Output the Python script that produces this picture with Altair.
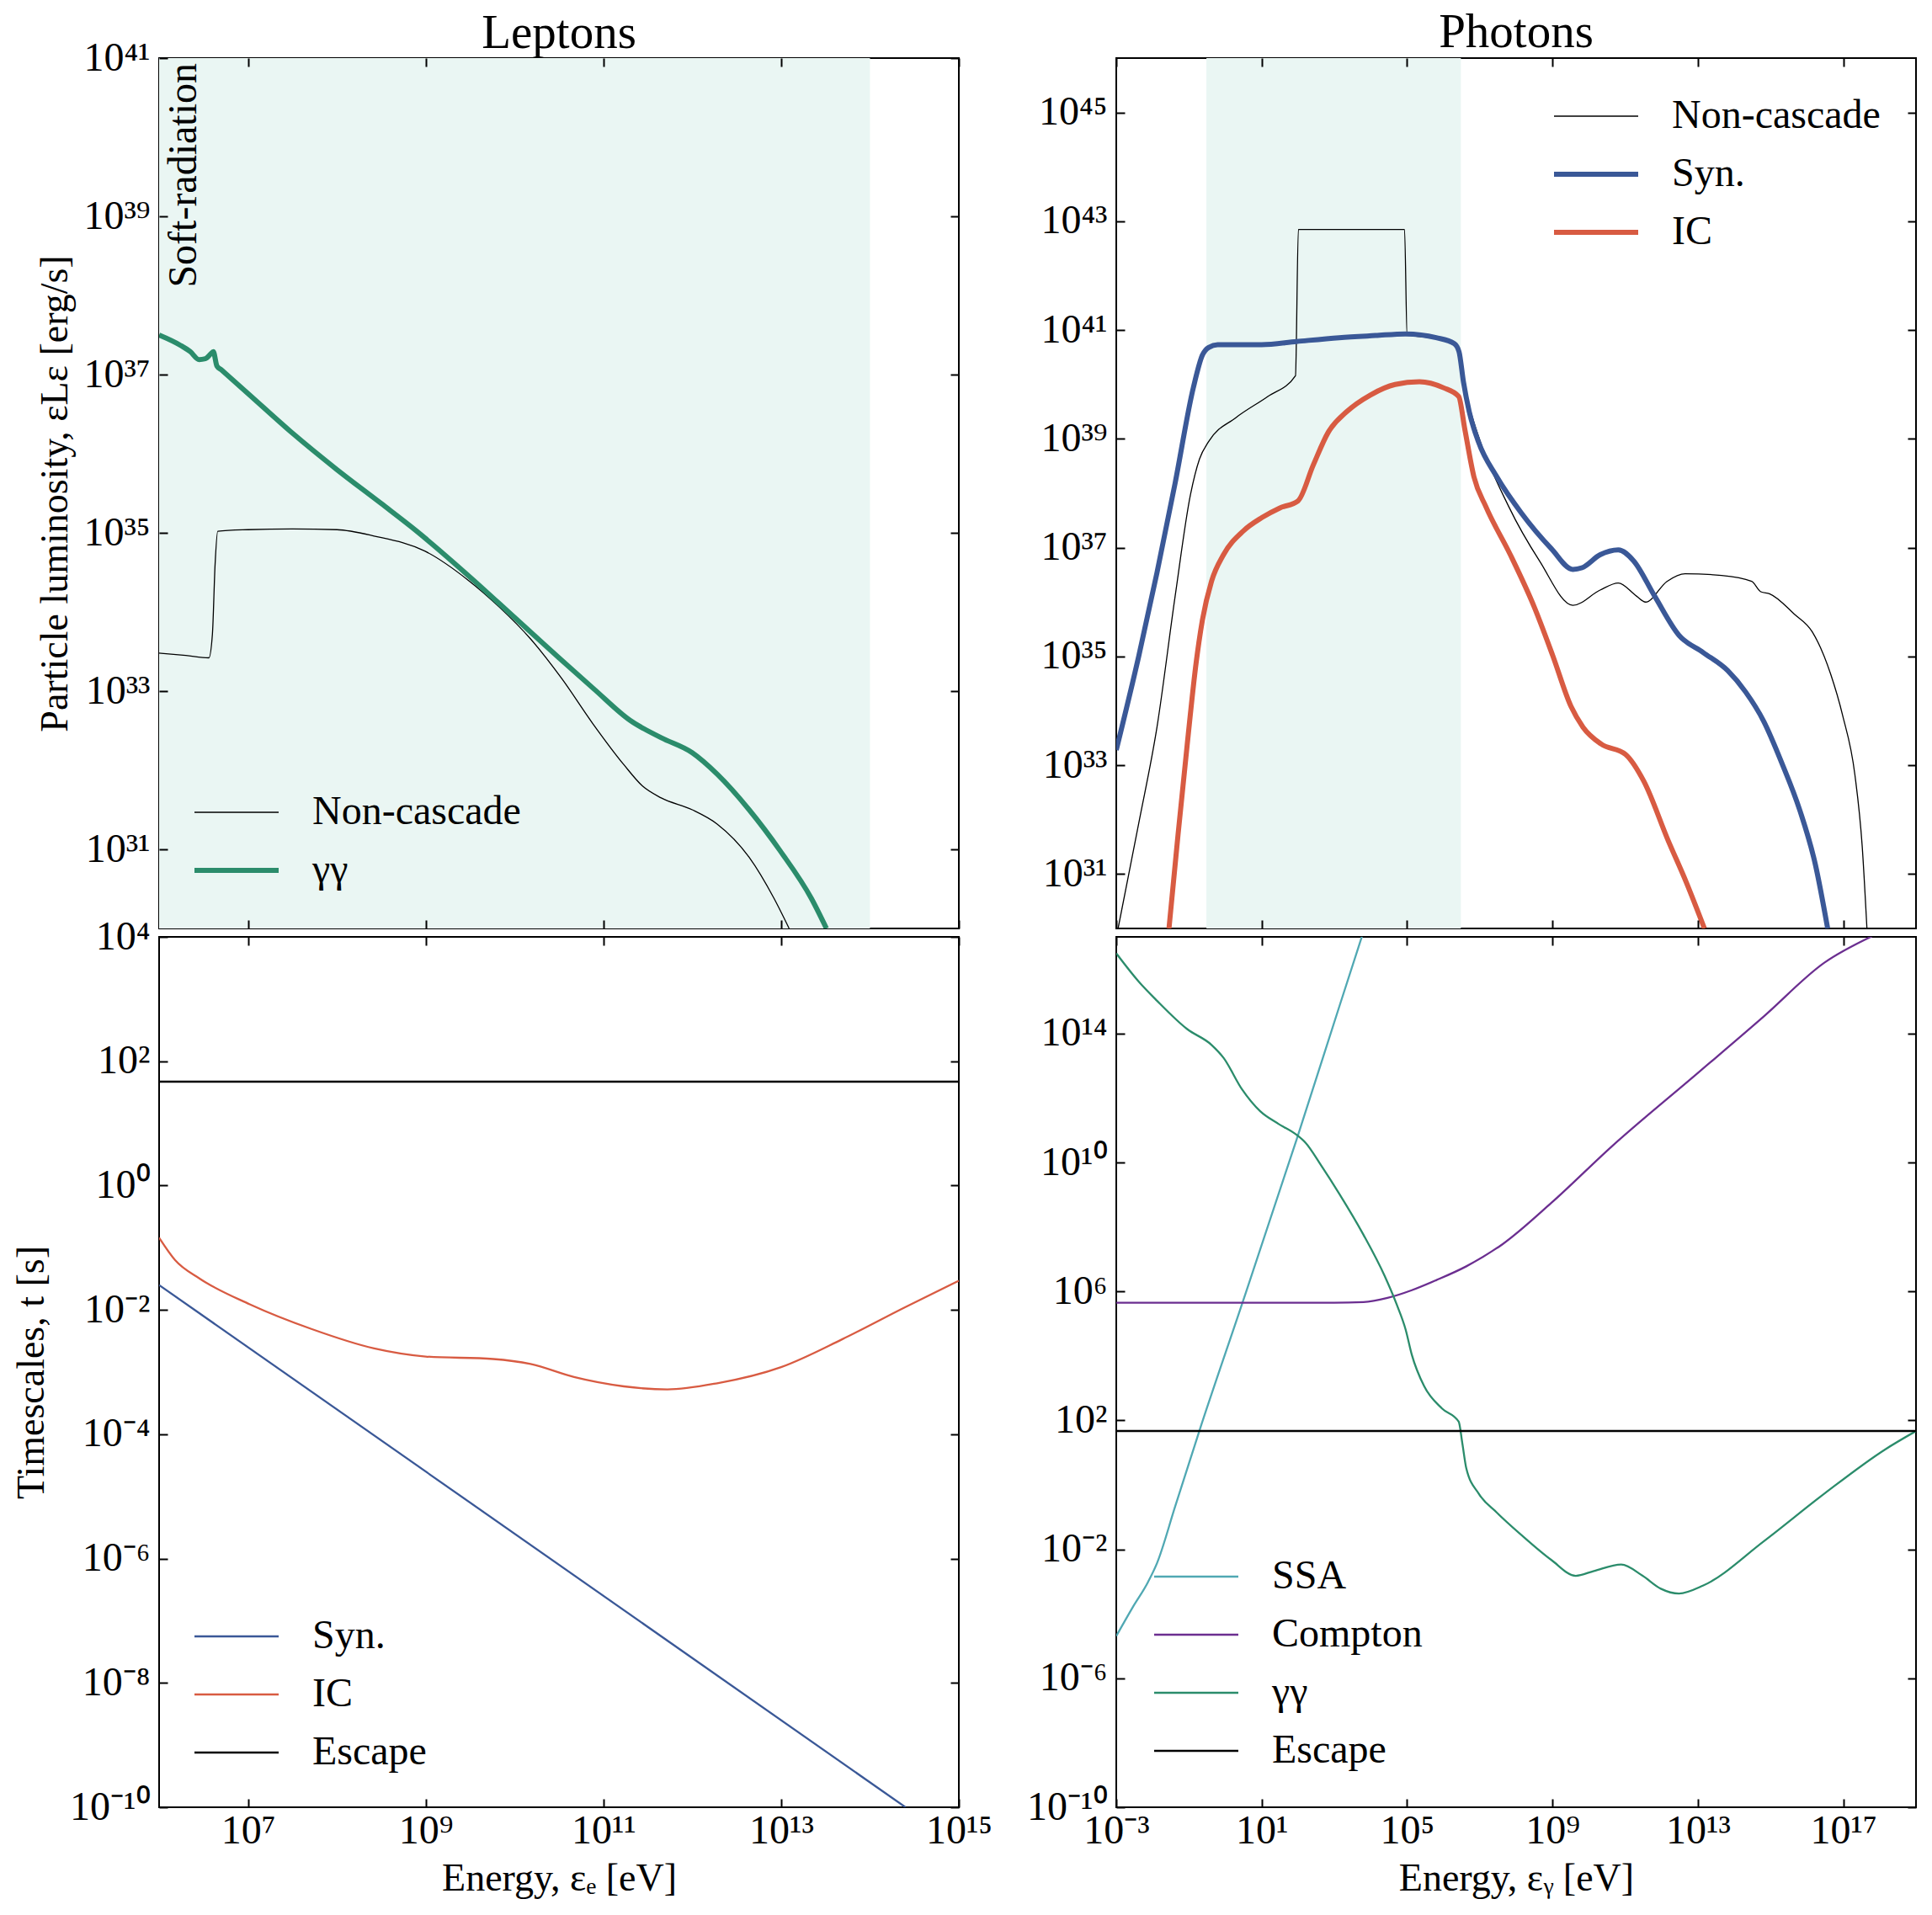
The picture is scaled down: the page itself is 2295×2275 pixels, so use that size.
import altair as alt
import pandas as pd

FONT = "Liberation Serif"
W, H = 950, 1034

# ---------------- values (log10 units) ----------------
# Leptons - luminosity
lep_gg_logE = [6.00, 6.24, 6.35, 6.45, 6.52, 6.58, 6.61, 6.65, 6.70, 7.00, 7.50, 8.00, 8.50, 8.90, 9.50,
               10.00, 10.50, 10.90, 11.30, 11.65, 12.00, 12.28, 12.64, 12.99, 13.34, 13.51]
lep_gg_logL = [37.50, 37.37, 37.29, 37.19, 37.20, 37.26, 37.29, 37.11, 37.06, 36.76, 36.26, 35.80, 35.37, 35.02, 34.44,
               33.93, 33.42, 33.02, 32.63, 32.41, 32.22, 31.95, 31.50, 30.98, 30.38, 30.00]
lep_nc_logE = [6.00, 6.30, 6.56, 6.60, 6.63, 6.66, 7.00, 7.50, 8.00, 8.42, 8.99, 9.48, 9.83, 10.18,
               10.53, 10.88, 11.23, 11.44, 11.65, 12.00, 12.28, 12.64, 12.92, 13.09]
lep_nc_logL = [33.48, 33.45, 33.42, 33.72, 34.60, 35.02, 35.04, 35.05, 35.04, 34.96, 34.77, 34.40, 34.06, 33.66,
               33.16, 32.59, 32.07, 31.80, 31.65, 31.50, 31.32, 30.90, 30.38, 30.00]
lep_shade_logE = [6.0, 14.0]

# Leptons - timescales
lep_syn_logE = [6.0, 14.4]
lep_syn_logt = [-1.60, -10.0]
lep_ic_logE = [6.00, 6.18, 6.46, 7.02, 7.72, 8.42, 9.00, 9.76, 10.18, 10.67, 11.23, 11.72, 12.28,
               13.00, 13.69, 14.39, 15.00]
lep_ic_logt = [-0.84, -1.20, -1.50, -1.91, -2.31, -2.62, -2.75, -2.79, -2.87, -3.08, -3.23, -3.28, -3.18,
               -2.92, -2.47, -1.96, -1.53]
escape_logt = 1.67

# Photons - luminosity
pho_syn_logE = [-3.00, -2.38, -1.88, -1.38, -0.88, -0.63, -0.46, -0.21, 1.00, 1.96, 3.13, 4.13, 4.96, 5.80,
                6.30, 6.43, 6.55, 6.71, 6.96, 7.47, 8.14, 8.97, 9.56, 9.81, 10.31, 10.81, 11.23, 11.81,
                12.48, 13.15, 13.82, 14.31, 14.81, 15.31, 15.81, 16.23, 16.57]
pho_syn_logL = [33.28, 35.01, 36.54, 38.19, 39.94, 40.54, 40.68, 40.73, 40.73, 40.79, 40.86, 40.90, 40.93, 40.86,
                40.75, 40.60, 40.05, 39.50, 38.95, 38.30, 37.64, 36.98, 36.60, 36.63, 36.87, 36.96, 36.76, 36.11,
                35.39, 35.07, 34.74, 34.35, 33.81, 33.04, 32.16, 31.18, 30.00]
pho_ic_logE = [-1.55, -1.30, -1.05, -0.80, -0.63, -0.38, -0.05, 0.50, 1.00, 1.50, 2.00, 2.42, 2.83, 3.34,
               4.00, 4.67, 5.34, 6.00, 6.42, 6.59, 6.84, 7.17, 7.84, 8.51, 9.01, 9.51, 9.84, 10.34,
               11.01, 11.51, 12.18, 12.68, 13.18]
pho_ic_logL = [30.00, 31.73, 33.37, 34.90, 35.67, 36.38, 36.87, 37.31, 37.55, 37.73, 37.86, 38.52, 39.12, 39.50,
               39.81, 40.00, 40.05, 39.94, 39.78, 39.17, 38.30, 37.75, 36.87, 35.89, 35.01, 34.08, 33.70, 33.39,
               33.20, 32.71, 31.62, 30.85, 30.00]
pho_nc_logE = [-2.95, -2.38, -1.88, -1.38, -0.96, -0.71, -0.46, 0.29, 1.17, 1.93, 2.01, 4.93, 5.00, 5.80,
               6.30, 6.43, 6.55, 6.80, 7.80, 8.64, 9.56, 10.31, 10.81, 11.31, 11.56, 12.15, 12.65, 13.65,
               14.48, 14.73, 14.98, 15.65, 16.15, 16.65, 16.98, 17.32, 17.52, 17.65]
pho_nc_logL = [30.00, 31.94, 33.70, 36.11, 37.97, 38.63, 38.95, 39.39, 39.78, 40.16, 42.85, 42.85, 40.92, 40.84,
               40.72, 40.55, 40.00, 39.39, 37.75, 36.76, 35.94, 36.22, 36.35, 36.11, 36.00, 36.38, 36.52, 36.49,
               36.38, 36.19, 36.15, 35.78, 35.45, 34.68, 33.92, 32.82, 31.51, 30.00]
pho_shade_logE = [-0.52, 6.48]

# Photons - timescales
pho_ssa_logE = [-3.00, -2.55, -2.13, -1.88, -1.38, -0.71, 0.46, 1.96, 3.13, 3.76]
pho_ssa_logt = [-4.69, -3.80, -3.02, -2.43, -0.67, 1.69, 5.61, 10.71, 14.82, 17.02]
pho_comp_logE = [-3.00, 3.00, 3.80, 4.46, 5.13, 5.80, 6.63, 7.63, 8.97, 10.64, 12.98, 14.81, 16.48, 17.79]
pho_comp_logt = [5.65, 5.65, 5.67, 5.80, 6.04, 6.35, 6.78, 7.47, 8.75, 10.51, 12.76, 14.53, 16.20, 17.02]
pho_gg_logE = [-3.00, -2.38, -1.88, -1.05, -0.38, -0.05, 0.46, 0.96, 1.46, 1.96, 2.21, 2.63, 3.13, 3.80,
               4.38, 4.71, 4.96, 5.13, 5.47, 5.96, 6.42, 6.52, 6.63, 6.97, 7.47, 8.14, 8.97, 9.64, 10.14,
               10.89, 11.48, 11.98, 12.48, 13.15, 14.81, 16.48, 18.15, 19.00]
pho_gg_logt = [16.49, 15.61, 15.02, 14.14, 13.65, 13.25, 12.27, 11.59, 11.20, 10.86, 10.61, 9.92, 9.04, 7.76,
               6.49, 5.61, 4.82, 4.04, 3.06, 2.37, 1.96, 1.29, 0.51, -0.27, -0.86, -1.55, -2.33, -2.82, -2.67,
               -2.47, -2.82, -3.22, -3.37, -3.12, -1.75, -0.27, 1.10, 1.67]

# axis domains and tick exponents
lep_xdom = [6, 15]
lep_Ldom = [30, 41]
lep_tdom = [-10, 4]
pho_xdom = [-3, 19]
pho_Ldom = [30, 46]
pho_tdom = [-10, 17]
lep_x_ticks = [7, 9, 11, 13, 15]
lep_L_ticks = [31, 33, 35, 37, 39, 41]
lep_t_ticks = [-10, -8, -6, -4, -2, 0, 2, 4]
pho_x_ticks = [-3, 1, 5, 9, 13, 17]
pho_L_ticks = [31, 33, 35, 37, 39, 41, 43, 45]
pho_t_ticks = [-10, -6, -2, 2, 6, 10, 14]

# styles
BLUE, RED, GREEN = "#3a5897", "#d85b42", "#2b8c6b"
TEAL, PURPLE = "#50a8b3", "#6b2e90"
SHADE = "#eaf6f3"

SUP = str.maketrans("0123456789-", "⁰¹²³⁴⁵⁶⁷⁸⁹⁻")


def p10(v):
    return [10.0 ** x for x in v]


def lexpr(exps):
    expr = "''"
    for e in reversed(exps):
        expr = f"(abs(log(datum.value)/LN10-({e}))<0.01)?'10{str(e).translate(SUP)}':{expr}"
    return expr


def lines_df(items):
    frames = []
    for name, lx, ly in items:
        frames.append(pd.DataFrame({"E": p10(lx), "V": p10(ly), "series": name}))
    return pd.concat(frames, ignore_index=True)


TICK = dict(labels=False, ticks=True, tickSize=10, tickWidth=2, tickColor="black",
            domain=False, grid=False, zindex=2)


def panel(items, order, colors, widths, xdom, ydom, xt, yt, legend_xy,
          xlabels=False, xtitle=None, ytitle=None, ytitle_x=None,
          shade=None, note=None, title=None, title_offset=0):
    xs = alt.Scale(type="log", domain=p10(xdom), nice=False)
    ys = alt.Scale(type="log", domain=p10(ydom), nice=False)
    xv, yv = p10(xt), p10(yt)
    frame = pd.DataFrame({"x": [10.0 ** xdom[0]], "y": [10.0 ** ydom[0]]})

    layers = []
    if shade is not None:
        sdf = pd.DataFrame({"x1": [10.0 ** shade[0]], "x2": [10.0 ** shade[1]],
                            "y1": [10.0 ** ydom[0]], "y2": [10.0 ** ydom[1]]})
        layers.append(alt.Chart(sdf).mark_rect(color=SHADE, clip=True).encode(
            x=alt.X("x1:Q", scale=xs, axis=None), x2="x2",
            y=alt.Y("y1:Q", scale=ys, axis=None), y2="y2"))

    layers.append(alt.Chart(frame).mark_point(opacity=0).encode(
        x=alt.X("x:Q", scale=xs, title=None,
                axis=alt.Axis(orient="top", offset=-H, values=xv, **TICK)),
        y=alt.Y("y:Q", scale=ys, title=None,
                axis=alt.Axis(orient="right", offset=-W, values=yv, **TICK))))
    layers.append(alt.Chart(frame).mark_point(opacity=0).encode(
        x=alt.X("x:Q", scale=xs, title=None,
                axis=alt.Axis(orient="bottom", offset=-H, values=xv, **TICK)),
        y=alt.Y("y:Q", scale=ys, title=None,
                axis=alt.Axis(orient="left", offset=-W, values=yv, **TICK))))

    if xlabels:
        xaxis = alt.Axis(orient="bottom", values=xv, labelExpr=lexpr(xt), ticks=False, tickSize=0,
                         domain=False, grid=False, labelFontSize=48, labelPadding=4,
                         labelOverlap=False, labelFlush=False, labelColor="black",
                         titleFontSize=46, titleX=W / 2, titleY=98, titleAlign="center",
                         titleBaseline="alphabetic", titleColor="black", titleFontWeight="normal")
    else:
        xaxis = None
    yaxis_kw = dict(orient="left", values=yv, labelExpr=lexpr(yt), ticks=False, tickSize=0,
                    domain=False, grid=False, labelFontSize=48, labelPadding=11,
                    labelOverlap=False, labelFlush=False, labelColor="black")
    if ytitle is not None:
        yaxis_kw.update(titleFontSize=46, titleX=ytitle_x, titleY=H / 2, titleAngle=270,
                        titleAlign="center", titleBaseline="alphabetic", titleColor="black",
                        titleFontWeight="normal")
    yaxis = alt.Axis(**yaxis_kw)

    legend = alt.Legend(orient="none", legendX=legend_xy[0], legendY=legend_xy[1], title=None,
                        labelFont=FONT, labelFontSize=48, labelColor="black", labelLimit=1000,
                        symbolType="M-5,0L5,0", symbolSize=400, symbolOffset=38,
                        labelOffset=66, rowPadding=21, padding=0)
    ldf = lines_df(items)
    layers.append(alt.Chart(ldf).mark_line(interpolate="monotone", clip=True).encode(
        x=alt.X("E:Q", scale=xs, axis=xaxis, title=xtitle),
        y=alt.Y("V:Q", scale=ys, axis=yaxis, title=ytitle),
        color=alt.Color("series:N", scale=alt.Scale(domain=order, range=colors), legend=legend),
        strokeWidth=alt.StrokeWidth("series:N",
                                    scale=alt.Scale(type="ordinal", domain=order, range=widths),
                                    legend=legend)))

    if note is not None:
        ndf = pd.DataFrame({"x": [10.0 ** xdom[0]], "y": [10.0 ** ydom[1]], "t": [note]})
        layers.append(alt.Chart(ndf).mark_text(angle=270, align="right", baseline="alphabetic",
                                               dx=-6, dy=44, font=FONT, fontSize=48,
                                               color="black").encode(
            x=alt.X("x:Q", scale=xs, axis=None), y=alt.Y("y:Q", scale=ys, axis=None), text="t:N"))

    kw = {}
    if title is not None:
        kw["title"] = alt.Title(title, font=FONT, fontSize=57, fontWeight="normal", color="black",
                                anchor="middle", frame="group", baseline="alphabetic",
                                offset=title_offset)
    return alt.layer(*layers, **kw).properties(width=W, height=H).resolve_axis(
        x="independent", y="independent")


TL = panel([("Non-cascade", lep_nc_logE, lep_nc_logL), ("γγ", lep_gg_logE, lep_gg_logL)],
           ["Non-cascade", "γγ"], ["black", GREEN], [1.3, 6],
           lep_xdom, lep_Ldom, lep_x_ticks, lep_L_ticks, (30, 872),
           ytitle="Particle luminosity, εLε [erg/s]", ytitle_x=-110,
           shade=lep_shade_logE, note="Soft-radiation", title="Leptons", title_offset=-69)

TR = panel([("Non-cascade", pho_nc_logE, pho_nc_logL), ("Syn.", pho_syn_logE, pho_syn_logL),
            ("IC", pho_ic_logE, pho_ic_logL)],
           ["Non-cascade", "Syn.", "IC"], ["black", BLUE, RED], [1.3, 6, 6],
           pho_xdom, pho_Ldom, pho_x_ticks, pho_L_ticks, (508, 45),
           shade=pho_shade_logE, title="Photons", title_offset=-45)

BL = panel([("Syn.", lep_syn_logE, lep_syn_logt), ("IC", lep_ic_logE, lep_ic_logt),
            ("Escape", lep_xdom, [escape_logt, escape_logt])],
           ["Syn.", "IC", "Escape"], [BLUE, RED, "black"], [2.3, 2.3, 2.5],
           lep_xdom, lep_tdom, lep_x_ticks, lep_t_ticks, (30, 807),
           xlabels=True, xtitle="Energy, εₑ [eV]",
           ytitle="Timescales, t [s]", ytitle_x=-138)

BR = panel([("SSA", pho_ssa_logE, pho_ssa_logt), ("Compton", pho_comp_logE, pho_comp_logt),
            ("γγ", pho_gg_logE, pho_gg_logt), ("Escape", pho_xdom, [escape_logt, escape_logt])],
           ["SSA", "Compton", "γγ", "Escape"], [TEAL, PURPLE, GREEN, "black"], [2.3, 2.3, 2.3, 2.5],
           pho_xdom, pho_tdom, pho_x_ticks, pho_t_ticks, (33, 736),
           xlabels=True, xtitle="Energy, εᵧ [eV]")

chart = alt.ConcatChart(
    concat=[TL, TR, BL, BR], columns=2,
    spacing={"row": 10, "column": 187}, bounds="flush",
    padding={"left": 13, "top": 9, "right": 10, "bottom": 10},
    background="white",
).resolve_scale(
    x="independent", y="independent", color="independent", strokeWidth="independent"
).resolve_legend(
    color="independent", strokeWidth="independent"
).configure_view(
    stroke="black", strokeWidth=2
).configure_axis(
    labelFont=FONT, titleFont=FONT
).configure_legend(
    labelFont=FONT
).configure_title(
    font=FONT
)

chart.save("out.html", embed_options={"renderer": "svg", "actions": False})
